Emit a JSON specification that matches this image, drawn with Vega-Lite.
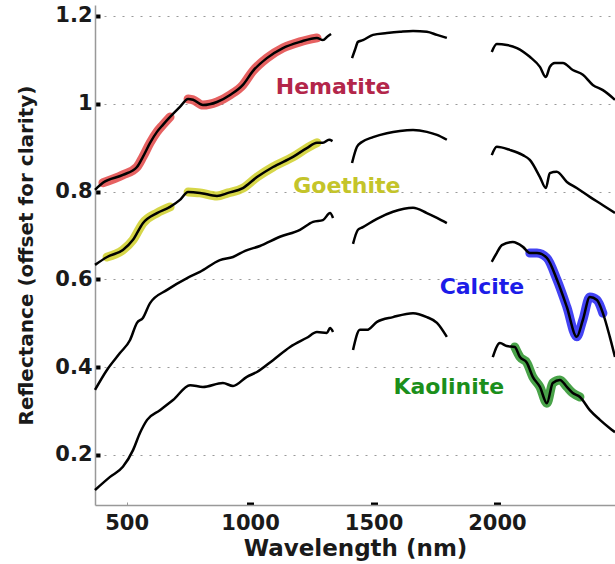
{
  "$schema": "https://vega.github.io/schema/vega-lite/v6.json",
  "width": 520,
  "height": 500,
  "autosize": {"type": "none"},
  "padding": {"left": 95, "top": 5, "right": 0, "bottom": 59},
  "background": "white",
  "config": {"view": {"stroke": null}, "font": "DejaVu Sans"},
  "datasets": {
    "spectra": [
      {"s":"Hematite","g":1,"w":372,"r":0.804},{"s":"Hematite","g":1,"w":404,"r":0.820},{"s":"Hematite","g":1,"w":485,"r":0.838},{"s":"Hematite","g":1,"w":542,"r":0.856},{"s":"Hematite","g":1,"w":566,"r":0.879},{"s":"Hematite","g":1,"w":595,"r":0.911},{"s":"Hematite","g":1,"w":623,"r":0.936},{"s":"Hematite","g":1,"w":647,"r":0.952},{"s":"Hematite","g":1,"w":676,"r":0.970},{"s":"Hematite","g":1,"w":716,"r":0.993},{"s":"Hematite","g":1,"w":749,"r":1.011},{"s":"Hematite","g":1,"w":769,"r":1.009},{"s":"Hematite","g":1,"w":809,"r":0.997},{"s":"Hematite","g":1,"w":866,"r":1.004},{"s":"Hematite","g":1,"w":919,"r":1.020},{"s":"Hematite","g":1,"w":971,"r":1.043},{"s":"Hematite","g":1,"w":1012,"r":1.075},{"s":"Hematite","g":1,"w":1068,"r":1.104},{"s":"Hematite","g":1,"w":1133,"r":1.127},{"s":"Hematite","g":1,"w":1202,"r":1.141},{"s":"Hematite","g":1,"w":1271,"r":1.150},{"s":"Hematite","g":1,"w":1295,"r":1.145},{"s":"Hematite","g":1,"w":1315,"r":1.154},{"s":"Hematite","g":1,"w":1328,"r":1.159},
      {"s":"Hematite","g":2,"w":1413,"r":1.104},{"s":"Hematite","g":2,"w":1425,"r":1.123},{"s":"Hematite","g":2,"w":1437,"r":1.141},{"s":"Hematite","g":2,"w":1457,"r":1.145},{"s":"Hematite","g":2,"w":1498,"r":1.157},{"s":"Hematite","g":2,"w":1554,"r":1.161},{"s":"Hematite","g":2,"w":1607,"r":1.164},{"s":"Hematite","g":2,"w":1660,"r":1.166},{"s":"Hematite","g":2,"w":1716,"r":1.164},{"s":"Hematite","g":2,"w":1757,"r":1.157},{"s":"Hematite","g":2,"w":1797,"r":1.150},
      {"s":"Hematite","g":3,"w":1979,"r":1.118},{"s":"Hematite","g":3,"w":1999,"r":1.136},{"s":"Hematite","g":3,"w":2040,"r":1.134},{"s":"Hematite","g":3,"w":2081,"r":1.127},{"s":"Hematite","g":3,"w":2133,"r":1.107},{"s":"Hematite","g":3,"w":2174,"r":1.084},{"s":"Hematite","g":3,"w":2198,"r":1.061},{"s":"Hematite","g":3,"w":2214,"r":1.084},{"s":"Hematite","g":3,"w":2234,"r":1.093},{"s":"Hematite","g":3,"w":2267,"r":1.093},{"s":"Hematite","g":3,"w":2307,"r":1.077},{"s":"Hematite","g":3,"w":2348,"r":1.066},{"s":"Hematite","g":3,"w":2388,"r":1.043},{"s":"Hematite","g":3,"w":2429,"r":1.031},{"s":"Hematite","g":3,"w":2478,"r":1.009},
      {"s":"Goethite","g":1,"w":372,"r":0.633},{"s":"Goethite","g":1,"w":421,"r":0.651},{"s":"Goethite","g":1,"w":485,"r":0.667},{"s":"Goethite","g":1,"w":526,"r":0.690},{"s":"Goethite","g":1,"w":566,"r":0.728},{"s":"Goethite","g":1,"w":623,"r":0.751},{"s":"Goethite","g":1,"w":676,"r":0.765},{"s":"Goethite","g":1,"w":716,"r":0.781},{"s":"Goethite","g":1,"w":749,"r":0.799},{"s":"Goethite","g":1,"w":797,"r":0.797},{"s":"Goethite","g":1,"w":866,"r":0.790},{"s":"Goethite","g":1,"w":911,"r":0.797},{"s":"Goethite","g":1,"w":971,"r":0.808},{"s":"Goethite","g":1,"w":1028,"r":0.833},{"s":"Goethite","g":1,"w":1093,"r":0.856},{"s":"Goethite","g":1,"w":1174,"r":0.879},{"s":"Goethite","g":1,"w":1230,"r":0.899},{"s":"Goethite","g":1,"w":1271,"r":0.911},{"s":"Goethite","g":1,"w":1295,"r":0.911},{"s":"Goethite","g":1,"w":1320,"r":0.918},{"s":"Goethite","g":1,"w":1334,"r":0.915},
      {"s":"Goethite","g":2,"w":1413,"r":0.865},{"s":"Goethite","g":2,"w":1433,"r":0.902},{"s":"Goethite","g":2,"w":1453,"r":0.913},{"s":"Goethite","g":2,"w":1498,"r":0.924},{"s":"Goethite","g":2,"w":1554,"r":0.933},{"s":"Goethite","g":2,"w":1607,"r":0.938},{"s":"Goethite","g":2,"w":1660,"r":0.940},{"s":"Goethite","g":2,"w":1716,"r":0.936},{"s":"Goethite","g":2,"w":1757,"r":0.929},{"s":"Goethite","g":2,"w":1797,"r":0.918},
      {"s":"Goethite","g":3,"w":1979,"r":0.883},{"s":"Goethite","g":3,"w":1999,"r":0.902},{"s":"Goethite","g":3,"w":2052,"r":0.895},{"s":"Goethite","g":3,"w":2105,"r":0.883},{"s":"Goethite","g":3,"w":2133,"r":0.872},{"s":"Goethite","g":3,"w":2174,"r":0.833},{"s":"Goethite","g":3,"w":2198,"r":0.808},{"s":"Goethite","g":3,"w":2214,"r":0.842},{"s":"Goethite","g":3,"w":2242,"r":0.845},{"s":"Goethite","g":3,"w":2283,"r":0.822},{"s":"Goethite","g":3,"w":2323,"r":0.808},{"s":"Goethite","g":3,"w":2376,"r":0.788},{"s":"Goethite","g":3,"w":2429,"r":0.769},{"s":"Goethite","g":3,"w":2478,"r":0.751},
      {"s":"Calcite","g":1,"w":372,"r":0.348},{"s":"Calcite","g":1,"w":421,"r":0.394},{"s":"Calcite","g":1,"w":473,"r":0.432},{"s":"Calcite","g":1,"w":514,"r":0.462},{"s":"Calcite","g":1,"w":542,"r":0.501},{"s":"Calcite","g":1,"w":566,"r":0.512},{"s":"Calcite","g":1,"w":595,"r":0.546},{"s":"Calcite","g":1,"w":664,"r":0.576},{"s":"Calcite","g":1,"w":745,"r":0.603},{"s":"Calcite","g":1,"w":797,"r":0.617},{"s":"Calcite","g":1,"w":878,"r":0.644},{"s":"Calcite","g":1,"w":931,"r":0.651},{"s":"Calcite","g":1,"w":980,"r":0.665},{"s":"Calcite","g":1,"w":1040,"r":0.676},{"s":"Calcite","g":1,"w":1121,"r":0.697},{"s":"Calcite","g":1,"w":1202,"r":0.713},{"s":"Calcite","g":1,"w":1255,"r":0.731},{"s":"Calcite","g":1,"w":1295,"r":0.735},{"s":"Calcite","g":1,"w":1324,"r":0.751},{"s":"Calcite","g":1,"w":1336,"r":0.740},
      {"s":"Calcite","g":2,"w":1417,"r":0.681},{"s":"Calcite","g":2,"w":1437,"r":0.713},{"s":"Calcite","g":2,"w":1457,"r":0.719},{"s":"Calcite","g":2,"w":1514,"r":0.738},{"s":"Calcite","g":2,"w":1579,"r":0.754},{"s":"Calcite","g":2,"w":1660,"r":0.763},{"s":"Calcite","g":2,"w":1716,"r":0.751},{"s":"Calcite","g":2,"w":1757,"r":0.740},{"s":"Calcite","g":2,"w":1797,"r":0.728},
      {"s":"Calcite","g":3,"w":1979,"r":0.640},{"s":"Calcite","g":3,"w":1999,"r":0.660},{"s":"Calcite","g":3,"w":2020,"r":0.678},{"s":"Calcite","g":3,"w":2064,"r":0.685},{"s":"Calcite","g":3,"w":2105,"r":0.674},{"s":"Calcite","g":3,"w":2133,"r":0.660},{"s":"Calcite","g":3,"w":2162,"r":0.660},{"s":"Calcite","g":3,"w":2202,"r":0.649},{"s":"Calcite","g":3,"w":2243,"r":0.599},{"s":"Calcite","g":3,"w":2283,"r":0.537},{"s":"Calcite","g":3,"w":2323,"r":0.469},{"s":"Calcite","g":3,"w":2348,"r":0.508},{"s":"Calcite","g":3,"w":2376,"r":0.560},{"s":"Calcite","g":3,"w":2405,"r":0.553},{"s":"Calcite","g":3,"w":2429,"r":0.523},{"s":"Calcite","g":3,"w":2457,"r":0.469},{"s":"Calcite","g":3,"w":2478,"r":0.423},
      {"s":"Kaolinite","g":1,"w":372,"r":0.120},{"s":"Kaolinite","g":1,"w":433,"r":0.150},{"s":"Kaolinite","g":1,"w":485,"r":0.173},{"s":"Kaolinite","g":1,"w":526,"r":0.211},{"s":"Kaolinite","g":1,"w":554,"r":0.250},{"s":"Kaolinite","g":1,"w":583,"r":0.280},{"s":"Kaolinite","g":1,"w":635,"r":0.302},{"s":"Kaolinite","g":1,"w":688,"r":0.325},{"s":"Kaolinite","g":1,"w":757,"r":0.359},{"s":"Kaolinite","g":1,"w":809,"r":0.355},{"s":"Kaolinite","g":1,"w":890,"r":0.364},{"s":"Kaolinite","g":1,"w":931,"r":0.357},{"s":"Kaolinite","g":1,"w":987,"r":0.378},{"s":"Kaolinite","g":1,"w":1028,"r":0.389},{"s":"Kaolinite","g":1,"w":1093,"r":0.416},{"s":"Kaolinite","g":1,"w":1162,"r":0.446},{"s":"Kaolinite","g":1,"w":1230,"r":0.467},{"s":"Kaolinite","g":1,"w":1271,"r":0.480},{"s":"Kaolinite","g":1,"w":1311,"r":0.478},{"s":"Kaolinite","g":1,"w":1324,"r":0.489},{"s":"Kaolinite","g":1,"w":1336,"r":0.480},
      {"s":"Kaolinite","g":2,"w":1417,"r":0.439},{"s":"Kaolinite","g":2,"w":1445,"r":0.485},{"s":"Kaolinite","g":2,"w":1473,"r":0.485},{"s":"Kaolinite","g":2,"w":1514,"r":0.503},{"s":"Kaolinite","g":2,"w":1579,"r":0.514},{"s":"Kaolinite","g":2,"w":1660,"r":0.523},{"s":"Kaolinite","g":2,"w":1716,"r":0.514},{"s":"Kaolinite","g":2,"w":1757,"r":0.501},{"s":"Kaolinite","g":2,"w":1797,"r":0.469},
      {"s":"Kaolinite","g":3,"w":1983,"r":0.423},{"s":"Kaolinite","g":3,"w":2012,"r":0.455},{"s":"Kaolinite","g":3,"w":2040,"r":0.448},{"s":"Kaolinite","g":3,"w":2072,"r":0.446},{"s":"Kaolinite","g":3,"w":2093,"r":0.423},{"s":"Kaolinite","g":3,"w":2121,"r":0.410},{"s":"Kaolinite","g":3,"w":2145,"r":0.378},{"s":"Kaolinite","g":3,"w":2174,"r":0.355},{"s":"Kaolinite","g":3,"w":2202,"r":0.318},{"s":"Kaolinite","g":3,"w":2226,"r":0.364},{"s":"Kaolinite","g":3,"w":2255,"r":0.371},{"s":"Kaolinite","g":3,"w":2283,"r":0.355},{"s":"Kaolinite","g":3,"w":2307,"r":0.341},{"s":"Kaolinite","g":3,"w":2336,"r":0.332},{"s":"Kaolinite","g":3,"w":2376,"r":0.302},{"s":"Kaolinite","g":3,"w":2417,"r":0.280},{"s":"Kaolinite","g":3,"w":2457,"r":0.261},{"s":"Kaolinite","g":3,"w":2478,"r":0.252}
    ],
    "labels": [
      {"s":"Hematite","w":1336,"r":1.038},
      {"s":"Goethite","w":1392,"r":0.813},
      {"s":"Calcite","w":1939,"r":0.583},
      {"s":"Kaolinite","w":1805,"r":0.355}
    ]
  },
  "layer": [
    {
      "data": {"name": "spectra"},
      "transform": [{"filter": "(datum.s=='Hematite' && datum.w>=404 && datum.w<=676) || (datum.s=='Goethite' && datum.w>=421 && datum.w<=676) || (datum.s=='Calcite' && datum.w>=2133 && datum.w<=2429) || (datum.s=='Kaolinite' && datum.w>=2072 && datum.w<=2336)"}],
      "mark": {"type": "line", "strokeWidth": 9, "opacity": 0.8, "strokeCap": "round", "strokeJoin": "round", "interpolate": "monotone"},
      "encoding": {
        "x": {"field": "w", "type": "quantitative"},
        "y": {"field": "r", "type": "quantitative"},
        "detail": {"field": "s"},
        "color": {"field": "s", "type": "nominal", "legend": null,
          "scale": {"domain": ["Hematite","Goethite","Calcite","Kaolinite"], "range": ["#e03a3a","#cccc1a","#1414f0","#1c8c1c"]}}
      }
    },
    {
      "data": {"name": "spectra"},
      "transform": [{"filter": "(datum.s=='Hematite' || datum.s=='Goethite') && datum.w>=749 && datum.w<=1271"}],
      "mark": {"type": "line", "strokeWidth": 9, "opacity": 0.8, "strokeCap": "round", "strokeJoin": "round", "interpolate": "monotone"},
      "encoding": {
        "x": {"field": "w", "type": "quantitative"},
        "y": {"field": "r", "type": "quantitative"},
        "detail": {"field": "s"},
        "color": {"field": "s", "type": "nominal", "legend": null,
          "scale": {"domain": ["Hematite","Goethite","Calcite","Kaolinite"], "range": ["#e03a3a","#cccc1a","#1414f0","#1c8c1c"]}}
      }
    },
    {
      "data": {"name": "spectra"},
      "mark": {"type": "line", "color": "black", "strokeWidth": 2.5, "strokeJoin": "round", "interpolate": "monotone"},
      "encoding": {
        "x": {"field": "w", "type": "quantitative",
          "scale": {"domain": [372, 2478], "nice": false, "zero": false},
          "axis": {"values": [500, 1000, 1500, 2000], "format": "d", "title": "Wavelength (nm)", "grid": false,
            "labelFont": "DejaVu Sans", "labelFontWeight": "bold", "labelFontSize": 21, "labelColor": "#1a1a1a", "labelPadding": 10,
            "titleFont": "DejaVu Sans", "titleFontWeight": "bold", "titleFontSize": 23, "titleColor": "#1a1a1a", "titlePadding": 4,
            "domainColor": "#999", "domainWidth": 1.5,
            "tickColor": {"condition": {"test": "datum.value == 500", "value": "#999"}, "value": "black"},
            "tickWidth": {"condition": {"test": "datum.value == 500", "value": 1}, "value": 7},
            "tickSize": -3}},
        "y": {"field": "r", "type": "quantitative",
          "scale": {"domain": [0.086, 1.225], "nice": false, "zero": false},
          "axis": {"values": [0.2, 0.4, 0.6, 0.8, 1, 1.2], "format": "~g", "title": "Reflectance (offset for clarity)",
            "grid": true, "gridColor": "#9a9a9a", "gridDash": [2, 7], "gridWidth": 1.2,
            "labelFont": "DejaVu Sans", "labelFontWeight": "bold", "labelFontSize": 21, "labelColor": "#1a1a1a", "labelPadding": 8,
            "titleFont": "DejaVu Sans", "titleFontWeight": "bold", "titleFontSize": 20, "titleColor": "#1a1a1a", "titlePadding": 18,
            "domainColor": "#999", "domainWidth": 1.5,
            "tickColor": "black", "tickWidth": 4, "tickSize": -5}},
        "detail": [{"field": "s"}, {"field": "g"}]
      }
    },
    {
      "data": {"name": "labels"},
      "mark": {"type": "text", "font": "DejaVu Sans", "fontWeight": "bold", "fontSize": 22, "align": "center", "baseline": "middle"},
      "encoding": {
        "x": {"field": "w", "type": "quantitative"},
        "y": {"field": "r", "type": "quantitative"},
        "text": {"field": "s"},
        "color": {"field": "s", "type": "nominal", "legend": null,
          "scale": {"domain": ["Hematite","Goethite","Calcite","Kaolinite"], "range": ["#b3264a","#c4c42a","#1c1ce8","#1b8f1b"]}}
      }
    }
  ],
  "resolve": {"scale": {"color": "independent"}}
}
